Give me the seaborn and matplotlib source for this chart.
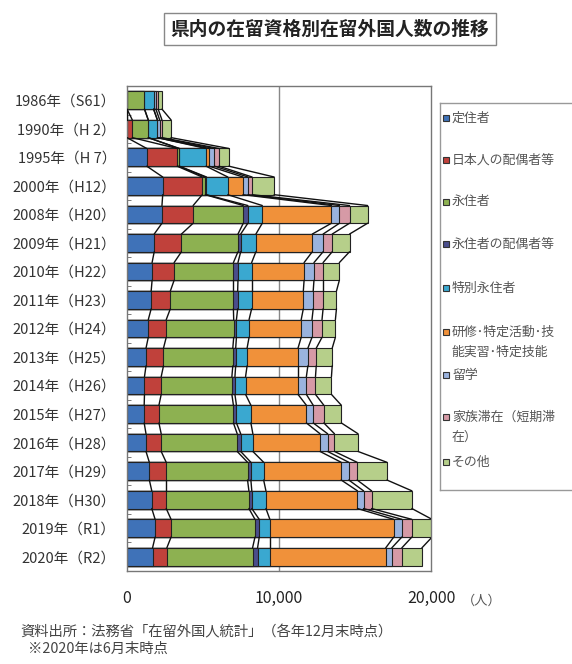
import numpy as np
import pandas as pd
import seaborn as sns
import matplotlib
matplotlib.use('Agg')
import matplotlib.pyplot as plt
from matplotlib.patches import Rectangle

years = ['1986年（S61）', '1990年（H 2）', '1995年（H 7）', '2000年（H12）', '2008年（H20）',
         '2009年（H21）', '2010年（H22）', '2011年（H23）', '2012年（H24）', '2013年（H25）',
         '2014年（H26）', '2015年（H27）', '2016年（H28）', '2017年（H29）', '2018年（H30）',
         '2019年（R1）', '2020年（R2）']

# values (persons)
teijusha       = [0, 0, 1300, 2350, 2300, 1790, 1650, 1590, 1400, 1250, 1150, 1130, 1250, 1470, 1630, 1850, 1680]
nihon_haigu    = [0, 350, 2000, 2600, 2050, 1790, 1450, 1260, 1180, 1150, 1100, 970, 1000, 1110, 950, 1050, 940]
eijusha        = [1150, 1050, 100, 200, 3300, 3720, 3900, 4150, 4440, 4560, 4650, 4900, 5000, 5350, 5440, 5520, 5640]
eiju_haigu     = [0, 0, 50, 80, 300, 180, 300, 280, 180, 190, 200, 200, 230, 220, 190, 280, 330]
tokubetsu_eiju = [600, 600, 1750, 1400, 950, 1000, 900, 920, 830, 750, 700, 950, 800, 840, 930, 700, 810]
kenshu         = [0, 0, 200, 1000, 4550, 3710, 3450, 3400, 3430, 3350, 3450, 3650, 4420, 5100, 6020, 8150, 7620]
ryugaku        = [150, 150, 350, 330, 530, 710, 650, 650, 710, 650, 550, 450, 500, 500, 400, 530, 400]
kazoku         = [150, 150, 300, 270, 660, 600, 600, 650, 660, 550, 600, 700, 450, 550, 530, 660, 660]
sonota         = [250, 600, 650, 1450, 1190, 1140, 1070, 880, 880, 1050, 1050, 1150, 1550, 1960, 2650, 1330, 1320]

series_names = ['定住者', '日本人の配偶者等', '永住者', '永住者の配偶者等', '特別永住者',
                '研修･特定活動･技\n能実習･特定技能', '留学', '家族滞在（短期滞\n在）', 'その他']
colors = ['#3F72B8', '#C0413B', '#8DB151', '#4A4E8C', '#3AA8D0',
          '#F0913A', '#9AB3DE', '#D69AA6', '#B6CF8A']

df = pd.DataFrame({'year': years,
                   's0': teijusha, 's1': nihon_haigu, 's2': eijusha, 's3': eiju_haigu,
                   's4': tokubetsu_eiju, 's5': kenshu, 's6': ryugaku, 's7': kazoku, 's8': sonota})
cols = ['s%d' % i for i in range(9)]
cum = df[cols].cumsum(axis=1)

sns.set_style('white')
plt.rcParams['font.family'] = ['Noto Sans CJK JP', 'DejaVu Sans']

W, H = 572, 664
fig = plt.figure(figsize=(W / 100, H / 100), dpi=100)
ax = fig.add_axes([127 / W, 1 - 571 / H, 304 / W, 485 / H])

bw = 0.62
# draw cumulative bars from outermost to innermost -> stacked look
for k in range(8, -1, -1):
    sns.barplot(x=cum[cols[k]], y=df['year'], orient='h', color=colors[k], saturation=1,
                width=bw, edgecolor='#222222', linewidth=0.8, errorbar=None, ax=ax)

# series lines between bars
n = len(years)
for k in range(9):
    c = cum[cols[k]].values
    for i in range(n - 1):
        ax.plot([c[i], c[i + 1]], [i + bw / 2, i + 1 - bw / 2], color='#111111', lw=1, zorder=3)

ax.axvline(10000, color='#888888', lw=1, zorder=0.5)
ax.set_xlim(0, 20000)
ax.set_ylim(n - 0.5, -0.5)
ax.set_xticks([0, 10000, 20000])
ax.set_xticklabels(['0', '10,000', '20,000'])
ax.set_xlabel('')
ax.set_ylabel('')
ax.tick_params(axis='x', length=0, pad=14, labelsize=11.5, labelcolor='#222222')
ax.tick_params(axis='y', length=0, pad=8, labelsize=10.5, labelcolor='#333333')
ax.set_yticks(np.arange(0.5, n - 1, 1), minor=True)
ax.tick_params(axis='y', which='minor', direction='in', length=3, color='#666666', left=True)
for s in ax.spines.values():
    s.set_visible(True)
    s.set_color('#777777')
    s.set_linewidth(1)

# title
fig.text(330 / W, 1 - 29 / H, '県内の在留資格別在留外国人数の推移', ha='center', va='center',
         fontsize=13.5, fontweight='bold', color='#222222',
         bbox=dict(boxstyle='square,pad=0.35', fc='white', ec='#888888', lw=1))

# unit
fig.text(482 / W, 1 - 601 / H, '（人）', ha='center', va='center', fontsize=9.5, color='#555555')

# legend box (runs off the right edge like the original)
lax = fig.add_axes([440 / W, 1 - 490 / H, 160 / W, 387 / H])
lax.set_xticks([])
lax.set_yticks([])
for s in lax.spines.values():
    s.set_color('#999999')
    s.set_linewidth(1)

leg_y = [118, 160, 202, 244, 288, 332, 375, 417, 462]
for name, c, y in zip(series_names, colors, leg_y):
    fig.add_artist(Rectangle((443 / W, 1 - (y + 3) / H), 6 / W, 6 / H, transform=fig.transFigure,
                             facecolor=c, edgecolor='#333333', lw=0.8))
    for j, line in enumerate(name.split('\n')):
        fig.text(452 / W, 1 - (y + 20 * j) / H, line, ha='left', va='center',
                 fontsize=9.3, color='#555555')

# source notes
fig.text(20 / W, 1 - 632 / H, '資料出所：法務省「在留外国人統計」（各年12月末時点）',
         ha='left', va='center', fontsize=10.3, color='#444444')
fig.text(28 / W, 1 - 649 / H, '※2020年は6月末時点', ha='left', va='center', fontsize=10.3, color='#444444')

fig.savefig('out.png', dpi=100)
